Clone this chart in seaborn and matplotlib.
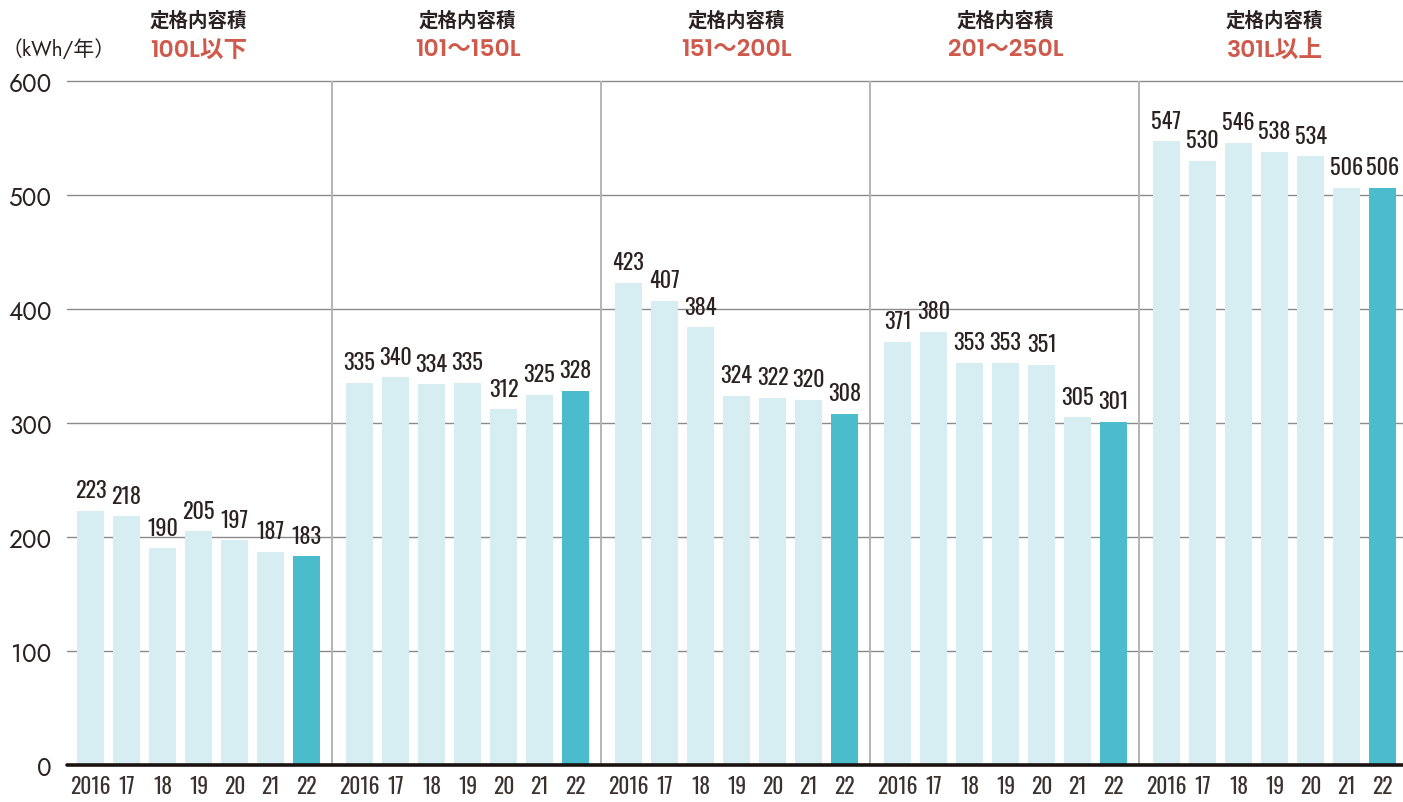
import matplotlib
matplotlib.use("Agg")
import matplotlib.pyplot as plt
import seaborn as sns
import pandas as pd

# Annual power consumption of refrigerators by rated capacity (kWh/year)
capacity_header = "定格内容積"
capacity_classes = ["100L以下", "101～150L", "151～200L", "201～250L", "301L以上"]
year_labels = ["2016", "17", "18", "19", "20", "21", "22"]
kwh_100 = [223, 218, 190, 205, 197, 187, 183]
kwh_150 = [335, 340, 334, 335, 312, 325, 328]
kwh_200 = [423, 407, 384, 324, 322, 320, 308]
kwh_250 = [371, 380, 353, 353, 351, 305, 301]
kwh_301 = [547, 530, 546, 538, 534, 506, 506]
series = [kwh_100, kwh_150, kwh_200, kwh_250, kwh_301]
y_ticks = [0, 100, 200, 300, 400, 500, 600]
unit_label = "（kWh/年）"

LIGHT = "#d6edf1"
DARK = "#4bbccb"
RED = "#cf5a4b"
INK = "#2a2120"
GRID = "#8a8a8a"
SEP = "#b4b4b4"

sns.set_theme(style="white")
plt.rcParams["font.family"] = ["Noto Sans CJK JP", "DejaVu Sans"]
CONDENSED = ["Oswald", "Roboto Condensed", "IBM Plex Sans Condensed", "DejaVu Sans"]
GEOMETRIC = ["Jost", "Poppins", "Noto Sans CJK JP", "DejaVu Sans"]
GEOMETRIC_BOLD = ["Poppins", "Montserrat", "Jost", "Noto Sans CJK JP", "DejaVu Sans"]

# x layout: bar pitch inside a class and pitch between classes
BAR_STEP = 36
GROUP_STEP = 269
X0 = 90.5

rows = []
for g, vals in enumerate(series):
    for i, v in enumerate(vals):
        rows.append({
            "pos": X0 + g * GROUP_STEP + i * BAR_STEP,
            "kwh": v,
            "year": year_labels[i],
            "latest": "latest" if i == len(vals) - 1 else "past",
        })
df = pd.DataFrame(rows)

W, H = 1403, 803
fig = plt.figure(figsize=(W / 100, H / 100), dpi=100)
ax_left, ax_right = 67, 1403
ax_bottom, ax_top = 766, 82
ax = fig.add_axes([ax_left / W, (H - ax_bottom) / H,
                   (ax_right - ax_left) / W, (ax_bottom - ax_top) / H])

sns.barplot(data=df, x="pos", y="kwh", hue="latest",
            palette={"past": LIGHT, "latest": DARK}, saturation=1,
            native_scale=True, dodge=False, width=27 / BAR_STEP,
            legend=False, ax=ax, zorder=3, linewidth=0)

ax.set_xlim(ax_left, ax_right)
ax.set_ylim(0, 600)

# horizontal grid and heavy baseline
for t in y_ticks[1:]:
    ax.axhline(t, color=GRID, lw=1.0, zorder=1, clip_on=False)
ax.axhline(0, color="#1a1311", lw=2.6, zorder=5, clip_on=False)

# separators between capacity classes
for g in range(len(series) - 1):
    xs = X0 + g * GROUP_STEP + 6 * BAR_STEP + 25.5
    ax.axvline(xs, color=SEP, lw=1.4, zorder=2)

for s in ax.spines.values():
    s.set_visible(False)

ax.set_yticks(y_ticks)
ax.set_yticklabels([str(t) for t in y_ticks], fontsize=17.5, color=INK,
                   family=GEOMETRIC)
ax.tick_params(axis="y", length=0, pad=11)
ax.set_xticks(df["pos"])
ax.set_xticklabels(df["year"], fontsize=15.5, color="#3b3230",
                   family=CONDENSED, fontweight="light")
ax.tick_params(axis="x", length=0, pad=7)
ax.set_xlabel("")
ax.set_ylabel("")

# value labels above each bar
for _, r in df.iterrows():
    ax.annotate(str(r["kwh"]), (r["pos"], r["kwh"]), xytext=(0, 7),
                textcoords="offset points", ha="center", va="bottom",
                fontsize=16, fontweight="medium", color=INK,
                family=CONDENSED, zorder=6)

# capacity class headings
for g, name in enumerate(capacity_classes):
    xc = X0 + g * GROUP_STEP + 3 * BAR_STEP
    xf = xc / W
    fig.text(xf, 1 - 21 / H, capacity_header, ha="center", va="center",
             fontsize=14, fontweight="bold", color=INK)
    fig.text(xf, 1 - 51 / H, name, ha="center", va="center",
             fontsize=17, fontweight="semibold", color=RED,
             family=GEOMETRIC_BOLD)

fig.text(2 / W, 1 - 50 / H, unit_label, ha="left", va="center",
         fontsize=15, color=INK, family=GEOMETRIC)

fig.savefig("out.png", dpi=100)
